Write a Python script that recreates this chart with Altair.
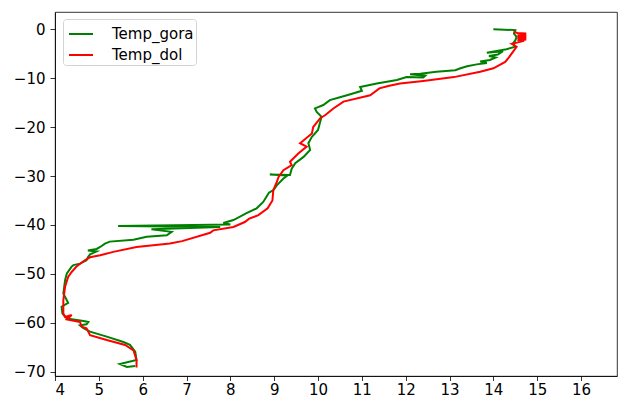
import altair as alt
import pandas as pd

# ---- data ----
gora_temp = [14.0, 14.5, 14.47, 14.53, 14.5, 14.45, 14.5, 14.3, 13.85, 14.22, 14.1, 13.9, 14.05,
             13.92, 13.7, 13.85, 13.62, 13.4, 13.25, 13.13, 12.7, 12.33, 12.1, 12.45, 12.4, 12.02,
             11.8, 11.34, 10.96, 11.0, 10.7, 10.5, 10.27, 10.12, 9.93, 9.97, 10.08, 10.05, 10.0,
             9.86, 9.78, 9.82, 9.67, 9.48, 9.4, 9.36, 8.9, 9.3, 9.21, 9.06, 8.98, 8.88, 8.75, 8.6,
             8.37, 8.07, 7.84, 8.0, 5.44, 7.77, 6.2, 6.66, 6.55, 6.09, 5.79, 5.25, 5.14, 5.03, 4.95,
             4.75, 4.95, 4.8, 4.75, 4.72, 4.57, 4.42, 4.38, 4.27, 4.23, 4.19, 4.3, 4.15, 4.17, 4.27,
             4.65, 4.76, 4.72, 4.57, 4.65, 4.8, 5.18, 5.56, 5.71, 5.83, 5.86, 5.48, 5.64, 5.83]
gora_depth = [0.0, -0.2, -0.9, -1.6, -2.3, -2.9, -3.6, -4.1, -4.8, -4.5, -5.2, -5.5, -5.8,
              -6.3, -6.6, -6.9, -7.2, -7.6, -8.0, -8.4, -8.7, -9.1, -9.2, -9.5, -9.9, -9.8,
              -10.4, -11.1, -11.8, -12.6, -13.4, -13.9, -14.5, -15.5, -16.2, -16.9, -17.9, -18.9, -20.6,
              -22.0, -23.3, -24.7, -26.1, -27.4, -28.5, -29.8, -29.7, -29.9, -30.5, -31.9, -32.9, -33.4, -35.3, -36.6,
              -37.6, -39.0, -39.6, -39.9, -40.2, -40.4, -40.9, -41.4, -42.1, -42.4, -43.0, -43.4, -43.8, -44.5, -44.9,
              -45.2, -45.4, -46.0, -46.6, -47.2, -47.9, -48.2, -48.5, -49.9, -51.3, -54.0, -55.9, -56.7, -58.1, -59.1,
              -59.6, -59.8, -60.3, -60.5, -61.1, -61.8, -62.8, -63.9, -64.5, -65.9, -67.6, -68.4, -69.0, -68.8]

dol_temp = [14.46, 14.55, 14.75, 14.55, 14.75, 14.55, 14.75, 14.55, 14.75, 14.55, 14.7, 14.42, 14.53,
            14.45, 14.35, 14.27, 14.0, 13.7, 13.1, 12.4, 11.87, 11.6, 11.4, 11.19, 10.58, 10.35,
            10.16, 10.05, 9.89, 9.86, 9.59, 9.74, 9.55, 9.36, 9.4, 9.21, 9.1, 9.06, 8.98, 8.96,
            8.85, 8.64, 8.43, 8.33, 8.07, 7.61, 7.54, 6.9, 6.62, 5.86, 5.33, 5.03, 4.8, 4.68,
            4.49, 4.38, 4.3, 4.23, 4.19, 4.19, 4.23, 4.38, 4.27, 4.57, 4.61, 4.72, 4.8, 5.18,
            5.6, 5.79, 5.86, 5.86]
dol_depth = [-0.55, -0.8, -0.9, -1.1, -1.3, -1.5, -1.7, -1.9, -2.1, -2.3, -2.4, -3.0, -3.6,
             -4.6, -5.8, -6.7, -8.0, -8.7, -9.8, -10.6, -11.1, -11.6, -12.1, -13.5, -14.8, -16.2,
             -17.6, -18.2, -20.0, -21.3, -23.3, -24.0, -25.4, -27.1, -27.8, -28.8, -30.2, -31.2, -32.9, -35.0,
             -36.6, -38.0, -38.7, -39.4, -40.4, -41.1, -41.6, -43.3, -43.8, -44.5, -45.5, -46.2, -46.6, -47.2,
             -48.5, -49.6, -50.6, -52.6, -55.4, -58.1, -58.8, -58.4, -59.3, -59.8, -60.8, -61.1, -62.5, -63.5,
             -64.5, -65.6, -67.6, -69.1]

series_names = ["Temp_gora", "Temp_dol"]
series_colors = ["#008000", "#ff0000"]
x_ticks = [4, 5, 6, 7, 8, 9, 10, 11, 12, 13, 14, 15, 16]
y_ticks = [-70, -60, -50, -40, -30, -20, -10, 0]

rows = []
for i, (t, d) in enumerate(zip(gora_temp, gora_depth)):
    rows.append({"series": "Temp_gora", "temp": t, "depth": d, "idx": i})
for i, (t, d) in enumerate(zip(dol_temp, dol_depth)):
    rows.append({"series": "Temp_dol", "temp": t, "depth": d, "idx": i})
df = pd.DataFrame(rows)

FONT = "DejaVu Sans"
FS = 15

chart = alt.Chart(df).mark_line(strokeWidth=2, clip=True).encode(
    x=alt.X("temp:Q",
            scale=alt.Scale(domain=[4, 16.82], nice=False, zero=False),
            axis=alt.Axis(values=x_ticks, title=None, grid=False, format="d",
                          labelFont=FONT, labelFontSize=FS, labelColor="black",
                          tickColor="black", tickSize=4.5, tickWidth=0.8,
                          domainColor="black", domainWidth=0.8, labelPadding=2)),
    y=alt.Y("depth:Q",
            scale=alt.Scale(domain=[-70.85, 3.5], nice=False, zero=False),
            axis=alt.Axis(values=y_ticks, title=None, grid=False, format="d",
                          labelFont=FONT, labelFontSize=FS, labelColor="black",
                          tickColor="black", tickSize=5, tickWidth=0.8,
                          domainColor="black", domainWidth=0.8, labelPadding=5)),
    color=alt.Color("series:N",
                    scale=alt.Scale(domain=series_names, range=series_colors),
                    legend=alt.Legend(title=None, orient="none", legendX=8, legendY=7,
                                      symbolType="stroke", symbolSize=576, symbolStrokeWidth=2,
                                      symbolOffset=3,
                                      labelFont=FONT, labelFontSize=FS, labelColor="black",
                                      labelOffset=18, padding=2, rowPadding=-2,
                                      strokeColor="#d3d3d3", fillColor="white",
                                      cornerRadius=3)),
    order="idx:Q",
).properties(
    width=562, height=364,
    autosize=alt.AutoSizeParams(type="none"),
    padding={"left": 47, "top": 4, "right": 1, "bottom": 26},
).configure_view(stroke="black", strokeWidth=0.8)

chart.save("out.html", embed_options={"renderer": "svg", "actions": False})
